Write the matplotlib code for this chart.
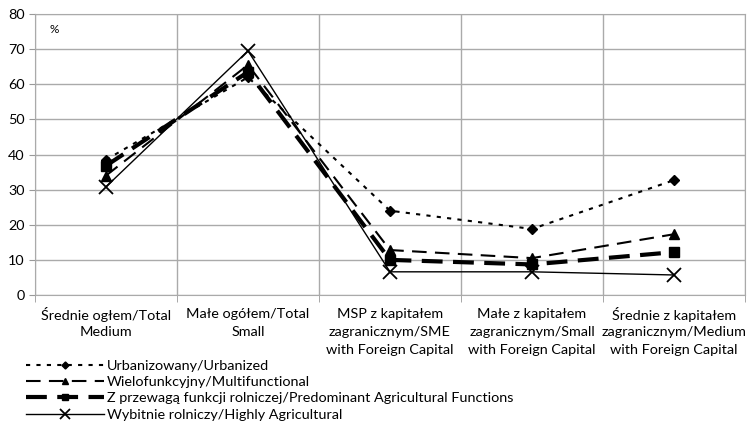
import numpy as np
import matplotlib
matplotlib.use("Agg")
import matplotlib.pyplot as plt
from matplotlib.ticker import FixedLocator

plt.rcParams["font.family"] = ["Lato", "DejaVu Sans"]

categories = [
    "Średnie ogłem/Total\nMedium",
    "Małe ogółem/Total\nSmall",
    "MSP z kapitałem\nzagranicznym/SME\nwith Foreign Capital",
    "Małe z kapitałem\nzagranicznym/Small\nwith Foreign Capital",
    "Średnie z kapitałem\nzagranicznym/Medium\nwith Foreign Capital",
]
urbanized = [38.5, 62.0, 24.0, 18.8, 32.7]
multifunctional = [34.0, 65.5, 12.8, 10.5, 17.3]
agricultural = [36.8, 63.5, 10.0, 8.7, 12.2]
highly_agri = [30.8, 69.5, 6.6, 6.6, 5.7]

labels = [
    "Urbanizowany/Urbanized",
    "Wielofunkcyjny/Multifunctional",
    "Z przewagą funkcji rolniczej/Predominant Agricultural Functions",
    "Wybitnie rolniczy/Highly Agricultural",
]

FS = 10.4
PX = 72 / 100  # pixels -> points at dpi 100

fig = plt.figure(figsize=(7.51, 4.30), dpi=100)
ax = fig.add_axes([35 / 751, 1 - 295 / 430, 710 / 751, 281 / 430])

x = np.arange(len(categories))
ax.plot(x, urbanized, color="black", lw=1.5, linestyle=(0, (2, 3)),
        marker="D", ms=5.5, label=labels[0])
ax.plot(x, multifunctional, color="black", lw=1.5, linestyle=(0, (7, 4)),
        marker="^", ms=7, label=labels[1])
ax.plot(x, agricultural, color="black", lw=3, linestyle=(0, (5, 2.5)),
        marker="s", ms=7, label=labels[2])
ax.plot(x, highly_agri, color="black", lw=1.0, linestyle="-",
        marker="x", ms=10, mew=1.3, label=labels[3])

ax.set_xlim(-0.5, len(categories) - 0.5)
ax.set_ylim(0, 80)
ax.set_yticks(range(0, 81, 10))
ax.set_xticks(x)
ax.set_xticklabels([])
# category labels: each line centred on its own under the slot
for i, lab in enumerate(categories):
    for k, line in enumerate(lab.split("\n")):
        ax.annotate(line, xy=(i, 0), xycoords=("data", "axes fraction"),
                    xytext=(0, -(19 + 18 * k) * PX), textcoords="offset points",
                    ha="center", va="center", fontsize=FS)
ax.xaxis.set_minor_locator(FixedLocator(np.arange(-0.5, len(categories), 1)))
ax.tick_params(axis="x", which="major", length=0)
ax.tick_params(axis="x", which="minor", length=5, color="#999999")
ax.tick_params(axis="y", length=4, color="#999999", labelsize=FS)
ax.grid(True, axis="y", color="#aaaaaa", lw=1)
ax.grid(True, axis="x", which="minor", color="#aaaaaa", lw=1)
for s in ax.spines.values():
    s.set_color("#aaaaaa")

ax.text(0.02, 0.965, "%", transform=ax.transAxes, fontsize=8.5, va="top")

fig.legend(loc="upper left", bbox_to_anchor=(26 / 751, 1 - 360 / 430),
           frameon=False, fontsize=FS, handlelength=5.4, handletextpad=0.2,
           labelspacing=0.28, borderpad=0, borderaxespad=0, markerscale=0.65)

fig.savefig("out.png", dpi=100)
